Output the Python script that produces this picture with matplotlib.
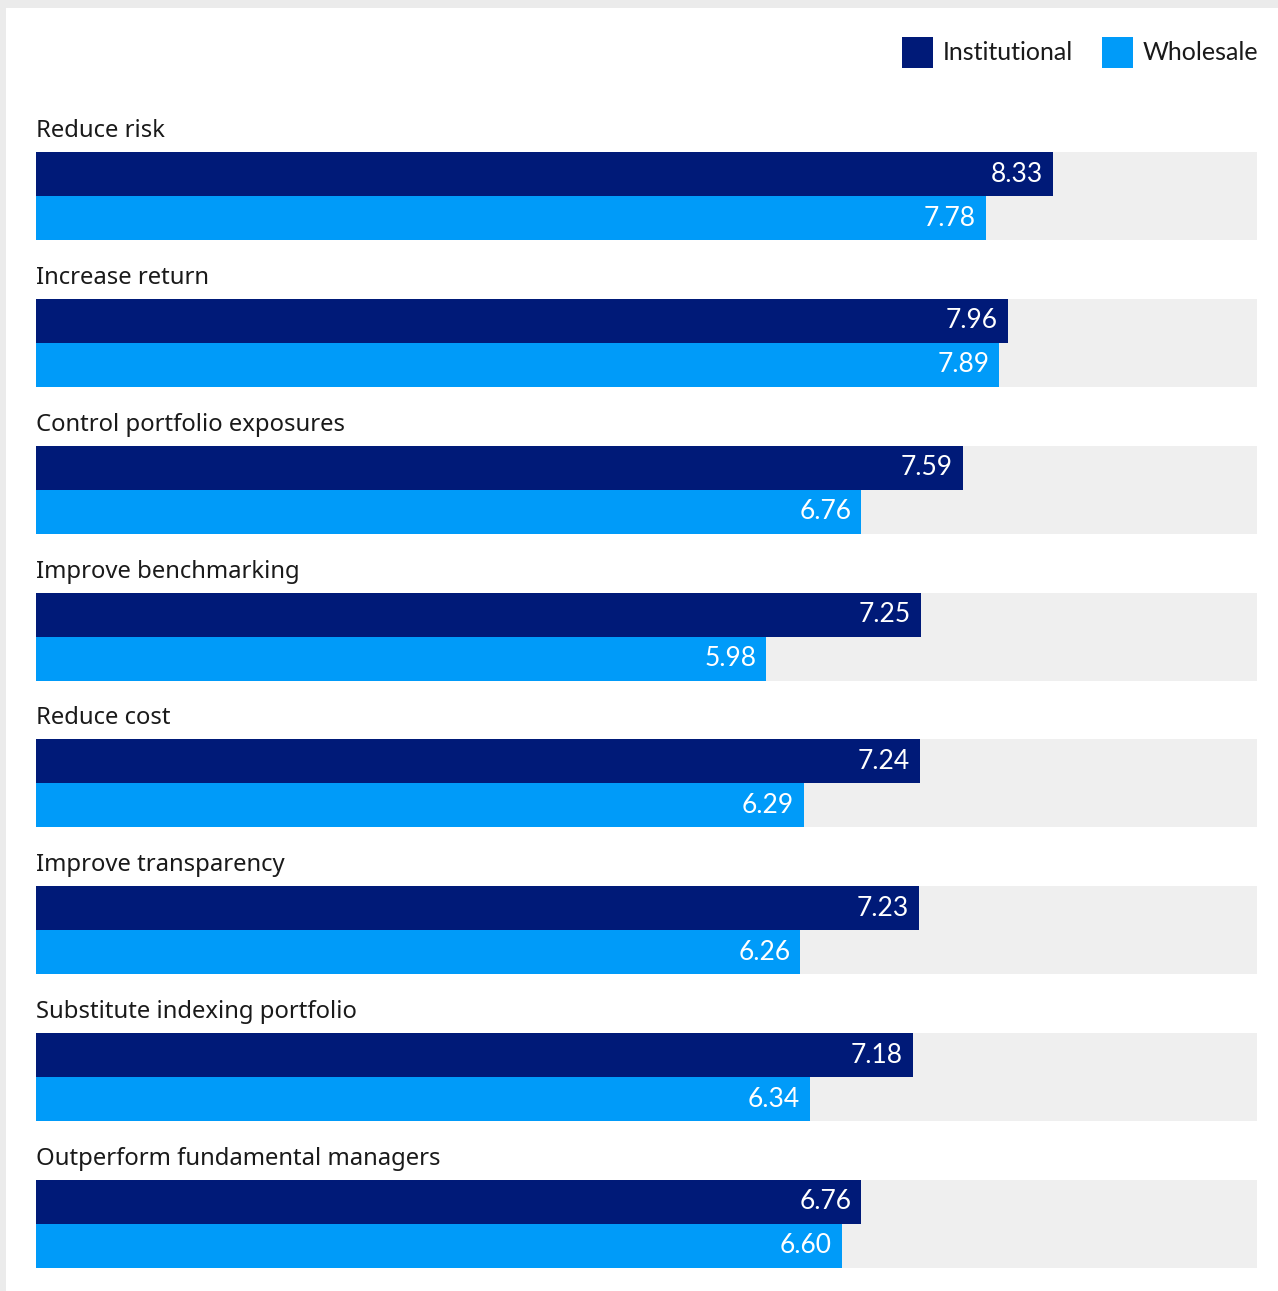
import matplotlib
matplotlib.use("Agg")
import matplotlib.pyplot as plt
from matplotlib.patches import Rectangle

# Survey data: importance scores (0-10) by motivation
categories = [
    "Reduce risk",
    "Increase return",
    "Control portfolio exposures",
    "Improve benchmarking",
    "Reduce cost",
    "Improve transparency",
    "Substitute indexing portfolio",
    "Outperform fundamental managers",
]
series_names = ["Institutional", "Wholesale"]
institutional = [8.33, 7.96, 7.59, 7.25, 7.24, 7.23, 7.18, 6.76]
wholesale = [7.78, 7.89, 6.76, 5.98, 6.29, 6.26, 6.34, 6.60]
scale_max = 10

NAVY = "#001A78"
BLUE = "#009BF9"
TRACK = "#EFEFEF"
FRAME = "#EBEBEB"
TEXT = "#1A1A1A"
FONT = ["Lato", "DejaVu Sans"]
LABEL_FONT = ["Noto Sans", "DejaVu Sans"]

W, H = 1278, 1291
DPI = 100
fig = plt.figure(figsize=(W / DPI, H / DPI), dpi=DPI)
fig.patch.set_facecolor("white")

# thin grey frame along the top and left edges
fig.patches.append(Rectangle((0, 1 - 8 / H), 1, 8 / H, transform=fig.transFigure,
                             facecolor=FRAME, edgecolor="none", zorder=0))
fig.patches.append(Rectangle((0, 0), 6 / W, 1, transform=fig.transFigure,
                             facecolor=FRAME, edgecolor="none", zorder=0))

# plotting area in pixel terms
left_px, right_px = 36, 1257
top_px, bottom_px = 152, 1268
ax = fig.add_axes([left_px / W, (H - bottom_px) / H,
                   (right_px - left_px) / W, (bottom_px - top_px) / H])
n = len(categories)
bar_h = 0.3
ax.set_xlim(0, scale_max)
ax.set_ylim(n - 1 + bar_h, -bar_h)
ax.axis("off")

px_per_unit_y = (bottom_px - top_px) / (n - 1 + 2 * bar_h)
px_per_unit_x = (right_px - left_px) / scale_max

for i, (cat, v1, v2) in enumerate(zip(categories, institutional, wholesale)):
    # background track
    ax.barh(i - bar_h, scale_max, height=2 * bar_h, align="edge",
            color=TRACK, linewidth=0, zorder=1)
    ax.barh(i - bar_h, v1, height=bar_h, align="edge",
            color=NAVY, linewidth=0, zorder=2)
    ax.barh(i, v2, height=bar_h, align="edge",
            color=BLUE, linewidth=0, zorder=2)

    pad = 10 / px_per_unit_x
    ax.text(v1 - pad, i - bar_h / 2, f"{v1:.2f}", ha="right", va="center",
            color="white", fontsize=19, family=FONT, zorder=3)
    ax.text(v2 - pad, i + bar_h / 2, f"{v2:.2f}", ha="right", va="center",
            color="white", fontsize=19, family=FONT, zorder=3)

    ax.text(0, i - bar_h - 15 / px_per_unit_y, cat, ha="left", va="baseline",
            color=TEXT, fontsize=17.2, family=LABEL_FONT, clip_on=False)

# legend in the top-right corner
legend_items = [(series_names[0], NAVY, 902), (series_names[1], BLUE, 1102)]
for name, col, x0 in legend_items:
    fig.patches.append(Rectangle((x0 / W, (H - 68) / H), 31 / W, 31 / H,
                                 transform=fig.transFigure, facecolor=col,
                                 edgecolor="none"))
    fig.text((x0 + 41) / W, (H - 52.5) / H, name, ha="left", va="center",
             color=TEXT, fontsize=18, family=FONT)

fig.savefig("out.png", dpi=DPI, facecolor="white")
